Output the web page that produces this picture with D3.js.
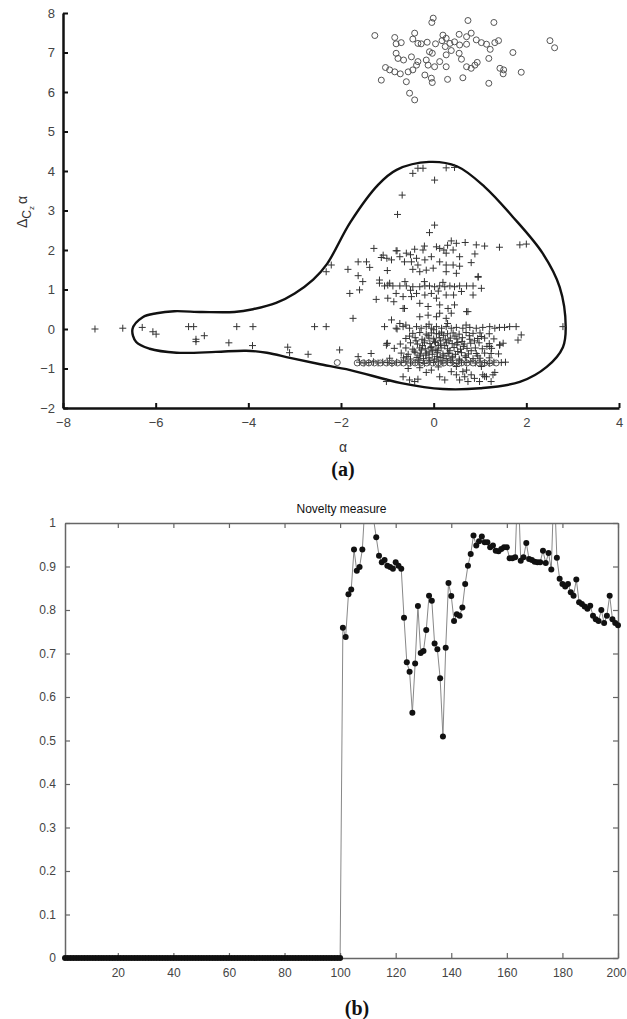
<!DOCTYPE html>
<html>
<head>
<meta charset="utf-8">
<script src="https://cdn.jsdelivr.net/npm/d3@7"></script>
<style>
	body { margin: 0; background: #fff; }
	svg { display: block; font-family: "Liberation Sans", Arial, sans-serif; }
</style>
</head>
<body>
<script>
// ---- panel (a) data ----
const xTicksA = [-8, -6, -4, -2, 0, 2, 4];
const yTicksA = [-2, -1, 0, 1, 2, 3, 4, 5, 6, 7, 8];

// closed decision boundary (alpha, delta)
const boundary = [
	[-6.5, 0], [-6.28, 0.3], [-5.98, 0.4], [-5.6, 0.45], [-5.0, 0.43], [-4.3, 0.43],
	[-3.9, 0.5], [-3.4, 0.66], [-3.0, 0.9], [-2.6, 1.25], [-2.3, 1.65], [-1.8, 2.7],
	[-1.2, 3.65], [-0.8, 4.03], [-0.1, 4.23], [0.5, 4.12], [1.1, 3.6], [1.7, 2.85],
	[2.35, 1.92], [2.72, 1.06], [2.85, 0.05], [2.79, -0.46], [2.44, -0.96], [1.86, -1.34],
	[1.0, -1.5], [0.2, -1.52], [-0.7, -1.37], [-1.8, -1.04], [-2.5, -0.88], [-3.1, -0.73],
	[-3.6, -0.6], [-4.05, -0.55], [-4.7, -0.58], [-5.55, -0.6], [-6.13, -0.5], [-6.42, -0.33]
];

// novel samples (circles)
const circlePts = [
	[-0.01, 7.87], [-0.04, 7.76], [0.74, 7.81], [1.30, 7.76], [-1.27, 7.43], [-0.84, 7.38],
	[-0.41, 7.49], [-0.45, 7.34], [-0.81, 7.22], [-0.70, 7.25], [-0.34, 7.23], [-0.27, 7.22],
	[-0.14, 7.26], [0.04, 7.22], [0.20, 7.44], [0.18, 7.30], [0.27, 7.36], [0.35, 7.23],
	[0.25, 7.15], [0.45, 7.27], [0.55, 7.46], [0.71, 7.40], [0.81, 7.49], [0.71, 7.21],
	[0.56, 7.19], [0.92, 7.32], [1.03, 7.25], [1.14, 7.21], [1.22, 7.08], [1.32, 7.25],
	[1.40, 7.30], [1.71, 7.00], [2.51, 7.30], [2.61, 7.12], [-0.81, 6.98], [-0.77, 6.85],
	[-0.65, 6.81], [-0.48, 6.89], [-0.34, 6.77], [-0.16, 6.81], [-0.09, 7.02], [-0.03, 6.98],
	[-0.12, 6.68], [0.02, 6.64], [0.13, 6.77], [0.27, 6.64], [0.27, 6.94], [0.38, 7.05],
	[0.55, 6.98], [0.60, 6.83], [0.71, 6.64], [0.81, 6.60], [0.89, 6.68], [0.94, 6.75],
	[1.19, 6.85], [1.43, 6.60], [1.51, 6.56], [1.50, 6.46], [1.89, 6.50], [-1.04, 6.62],
	[-0.95, 6.56], [-0.84, 6.51], [-0.72, 6.46], [-0.55, 6.51], [-0.45, 6.56], [-0.37, 6.68],
	[-0.19, 6.43], [-0.05, 6.35], [-0.03, 6.24], [0.30, 6.32], [0.63, 6.36], [1.19, 6.22],
	[-0.59, 6.26], [-1.13, 6.30], [-0.52, 5.97], [-0.41, 5.80],
	// a few inside the normal cloud
	[-2.08, -0.85], [-1.65, -0.86], [-1.52, -0.86], [-1.4, -0.86], [-1.28, -0.86], [-1.15, -0.86],
	[-1.02, -0.86], [-0.9, -0.86], [-0.78, -0.86], [-0.65, -0.86], [-0.52, -0.86], [-0.4, -0.86],
	[-0.28, -0.86], [-0.15, -0.86], [-0.02, -0.86], [0.1, -0.86], [0.22, -0.86], [0.35, -0.86],
	[0.48, -0.86], [0.6, -0.86], [0.72, -0.86], [0.85, -0.86], [0.98, -0.86], [1.1, -0.86],
	[1.22, -0.86], [1.35, -0.86]
];

// normal samples (plus signs)
const plusPts = [
	[-7.31, 0], [-6.71, 0.02], [-6.29, 0.04], [-6.06, -0.07], [-5.99, -0.13], [-5.29, 0.06],
	[-5.18, 0.06], [-5.13, -0.26], [-5.13, -0.32], [-4.95, -0.17], [-4.42, -0.35], [-4.25, 0.06],
	[-3.9, 0.06], [-3.91, -0.42], [-3.15, -0.46], [-3.11, -0.6], [-2.71, -0.64], [-2.57, 0.06],
	[-2.32, 0.06], [-2.32, 1.45], [-2.21, 1.62], [-2.03, -0.53],
	[-0.45, 3.94], [-0.34, 4.07], [-0.23, 4.07], [0.27, 4.08], [0.45, 4.09], [0.02, 3.77],
	[-0.68, 3.39], [-0.78, 2.9], [0.02, 2.63], [-0.09, 2.44],
	[0.38, 2.23], [0.49, 2.17], [0.68, 2.19], [0.92, 2.13], [1.1, 2.1], [1.42, 2.07], [1.86, 2.13],
	[2.0, 2.15], [-1.29, 2.04], [-0.79, 1.98], [-0.59, 1.92], [-0.41, 2.02], [-0.23, 2.0],
	[0.06, 2.08], [0.13, 2.04], [0.22, 2.0], [0.27, 1.92], [0.42, 2.0], [0.56, 1.83], [-1.13, 1.81],
	[-1.01, 1.79], [-0.91, 1.75], [-0.73, 1.83], [-0.63, 1.7], [-0.48, 1.7], [-0.37, 1.79],
	[-0.34, 1.62], [-0.19, 1.75], [-0.05, 1.83], [0.13, 1.7], [0.27, 1.62], [0.42, 1.62],
	[0.56, 1.59], [0.81, 1.68], [-1.63, 1.7], [-1.45, 1.7], [-1.38, 1.56], [-1.85, 1.51],
	[-1.63, 1.35], [-1.53, 1.2], [-1.0, 1.48], [-0.45, 1.51], [-0.3, 1.45], [-0.16, 1.49],
	[-0.01, 1.54], [0.27, 1.45], [0.49, 1.41], [-1.09, 1.87], [-0.81, 1.98], [0.89, 1.9],
	[0.96, 1.33], [-0.2, 2.1], [0.3, 2.12], [-0.5, 1.88],
	[-1.17, 1.24], [-1.06, 1.09], [-0.99, 1.11], [-0.88, 1.09], [-0.73, 1.09], [-0.59, 1.09],
	[-0.45, 1.07], [-0.3, 1.07], [-0.19, 1.09], [-0.09, 1.09], [0.02, 1.07], [0.13, 1.09],
	[0.24, 1.07], [0.35, 1.09], [0.45, 1.07], [0.56, 1.09], [0.71, 1.09], [0.85, 1.09],
	[0.96, 1.31], [1.03, 1.03], [-1.81, 0.9], [-1.6, 0.99], [-1.24, 0.75], [-0.99, 0.78],
	[-0.81, 0.9], [-0.66, 0.82], [-0.63, 0.52], [-0.48, 0.82], [-0.37, 0.9], [-0.19, 0.86],
	[-0.05, 0.9], [0.06, 0.78], [0.27, 0.86], [0.43, 0.86], [0.85, 0.86], [-0.3, 0.65],
	[-0.12, 0.57], [0.13, 0.61], [0.31, 0.52], [0.38, 0.4], [0.71, 0.44], [-1.74, 0.27],
	[-0.91, 0.23], [-0.73, 0.14], [-0.3, 0.31], [-0.12, 0.35], [0.06, 0.31], [0.13, 0.4],
	[0.27, 0.27], [-1.17, 1.16], [-0.95, 1.16], [-0.86, 0.69], [-0.66, 0.52], [0.74, 0.44],
	[0.45, 0.61], [-0.62, 1.2], [-0.2, 1.2], [0.2, 1.18], [-0.5, 0.98], [0.1, 0.96], [0.6, 0.95],
	[-1.06, 0.06], [-0.81, 0.02], [-0.66, 0.06], [-0.52, 0.02], [-0.37, 0.06], [-0.27, 0.02],
	[-0.16, 0.06], [-0.05, 0.02], [0.06, 0.06], [0.17, 0.02], [0.27, 0.06], [0.38, 0.02],
	[0.49, 0.04], [0.63, 0.02], [0.78, 0.04], [0.92, 0.02], [1.06, 0.04], [1.21, 0.06],
	[1.32, 0.02], [1.42, 0.04], [1.53, 0.04], [1.64, 0.06], [1.78, 0.06], [1.89, -0.15],
	[1.82, -0.28], [2.79, 0.06], [-0.79, 0.0], [-1.01, -0.37], [1.03, -0.19], [1.43, -0.4],
	[1.21, -0.44], [-0.6, 0.1], [-0.1, 0.12], [0.3, 0.14], [0.7, 0.1],
	[-0.45, -0.11], [-0.3, -0.09], [-0.16, -0.13], [-0.05, -0.1], [0.06, -0.12], [0.17, -0.08],
	[0.3, -0.12], [0.42, -0.1], [0.55, -0.13], [0.7, -0.09], [0.85, -0.11], [1.0, -0.1], [1.2, -0.12],
	[-0.6, -0.24], [-0.4, -0.22], [-0.25, -0.26], [-0.1, -0.23], [0.0, -0.25], [0.12, -0.22],
	[0.25, -0.26], [0.36, -0.23], [0.5, -0.25], [0.62, -0.22], [0.78, -0.26], [0.95, -0.24],
	[1.1, -0.23], [1.3, -0.25],
	[-1.0, -0.36], [-0.5, -0.35], [-0.35, -0.38], [-0.2, -0.35], [-0.08, -0.37], [0.04, -0.34],
	[0.15, -0.38], [0.28, -0.35], [0.4, -0.37], [0.52, -0.34], [0.66, -0.38], [0.8, -0.36],
	[0.98, -0.35], [1.2, -0.37], [1.5, -0.36],
	[-0.85, -0.49], [-0.6, -0.48], [-0.45, -0.51], [-0.3, -0.48], [-0.18, -0.5], [-0.06, -0.47],
	[0.05, -0.51], [0.16, -0.48], [0.3, -0.5], [0.44, -0.47], [0.58, -0.51], [0.72, -0.49],
	[0.9, -0.48], [1.05, -0.5], [1.25, -0.49],
	[-1.35, -0.62], [-0.7, -0.61], [-0.55, -0.64], [-0.4, -0.6], [-0.28, -0.63], [-0.15, -0.61],
	[-0.03, -0.64], [0.08, -0.6], [0.2, -0.63], [0.33, -0.61], [0.47, -0.64], [0.6, -0.6],
	[0.75, -0.63], [0.92, -0.62], [1.1, -0.61], [1.4, -0.63],
	[-0.95, -0.74], [-0.65, -0.73], [-0.5, -0.76], [-0.36, -0.72], [-0.22, -0.75], [-0.1, -0.73],
	[0.02, -0.76], [0.14, -0.72], [0.27, -0.75], [0.4, -0.73], [0.55, -0.76], [0.7, -0.72],
	[0.85, -0.75], [1.0, -0.74], [1.2, -0.73],
	[-0.2, -0.3], [0.1, -0.42], [0.35, -0.55], [-0.1, -0.58], [0.22, -0.68], [0.5, -0.4],
	[-0.3, -0.68], [0.0, -0.02], [0.15, -0.3], [-0.05, -0.45],
	[-0.52, -0.18], [-0.38, -0.3], [-0.24, -0.42], [-0.12, -0.17], [0.02, -0.31], [0.09, -0.55],
	[0.21, -0.16], [0.24, -0.42], [0.33, -0.3], [0.41, -0.69], [0.46, -0.18], [0.52, -0.57],
	[0.61, -0.32], [0.64, -0.44], [0.68, -0.68], [0.77, -0.17], [0.81, -0.55], [0.88, -0.3],
	[-0.42, -0.56], [-0.33, -0.79], [-0.17, -0.66], [-0.08, -0.8], [0.07, -0.7], [0.18, -0.8],
	[0.31, -0.62], [0.37, -0.79], [-0.58, -0.7], [-0.26, -0.53], [0.12, -0.12], [-0.02, -0.55],
	[0.56, -0.79], [0.95, -0.68], [-0.72, -0.38], [1.15, -0.44],
	[-1.6, -0.84], [-1.5, -0.86], [-1.4, -0.85], [-1.3, -0.83], [-1.2, -0.86], [-1.1, -0.84],
	[-1.0, -0.85], [-0.9, -0.87], [-0.8, -0.84], [-0.7, -0.85], [-0.6, -0.83], [-0.5, -0.86],
	[-0.4, -0.84], [-0.3, -0.85], [-0.2, -0.87], [-0.1, -0.84], [0.0, -0.85], [0.1, -0.83],
	[0.2, -0.86], [0.3, -0.84], [0.4, -0.85], [0.5, -0.87], [0.6, -0.84], [0.7, -0.85],
	[0.8, -0.83], [0.9, -0.86], [1.0, -0.84], [1.1, -0.85], [1.2, -0.87], [1.3, -0.84],
	[1.46, -0.85], [1.55, -0.84],
	[-1.02, -1.33], [-0.66, -1.21], [-0.52, -1.29], [-0.41, -1.33], [-0.34, -1.27], [-0.16, -1.1],
	[-0.05, -1.04], [0.13, -1.21], [0.24, -1.29], [0.38, -1.08], [0.49, -1.16], [0.56, -1.29],
	[0.67, -1.21], [0.74, -1.33], [0.81, -1.16], [0.88, -1.25], [0.99, -1.33], [1.06, -1.16],
	[1.14, -1.21], [1.24, -1.33], [1.28, -1.16], [1.03, -0.95], [1.42, -0.41], [1.24, -0.62],
	[0.49, -0.95], [0.71, -1.04], [-1.02, -0.41], [-1.63, -0.7], [1.32, -1.1], [1.1, -1.2],
	[0.63, -1.08], [-0.3, -0.98], [0.1, -0.96], [-0.55, -1.0]
];

// ---- panel (b) data ----
const xTicksB = [20, 40, 60, 80, 100, 120, 140, 160, 180, 200];
const yTicksB = [0, 0.1, 0.2, 0.3, 0.4, 0.5, 0.6, 0.7, 0.8, 0.9, 1];
// novelty value for samples 1..200
const novelty = [
	0, 0, 0, 0, 0, 0, 0, 0, 0, 0, 0, 0, 0, 0, 0, 0, 0, 0, 0, 0,
	0, 0, 0, 0, 0, 0, 0, 0, 0, 0, 0, 0, 0, 0, 0, 0, 0, 0, 0, 0,
	0, 0, 0, 0, 0, 0, 0, 0, 0, 0, 0, 0, 0, 0, 0, 0, 0, 0, 0, 0,
	0, 0, 0, 0, 0, 0, 0, 0, 0, 0, 0, 0, 0, 0, 0, 0, 0, 0, 0, 0,
	0, 0, 0, 0, 0, 0, 0, 0, 0, 0, 0, 0, 0, 0, 0, 0, 0, 0, 0, 0,
	0.759, 0.738, 0.836, 0.847, 0.939, 0.890, 0.899, 0.939, 1.05, 1.1,
	1.08, 1.01, 0.967, 0.925, 0.910, 0.915, 0.902, 0.899, 0.895, 0.910,
	0.902, 0.895, 0.782, 0.680, 0.658, 0.564, 0.677, 0.809, 0.701, 0.706,
	0.754, 0.833, 0.821, 0.723, 0.710, 0.643, 0.509, 0.713, 0.862, 0.832,
	0.775, 0.790, 0.787, 0.806, 0.860, 0.902, 0.929, 0.971, 0.948, 0.958,
	0.969, 0.956, 0.956, 0.944, 0.948, 0.936, 0.935, 0.940, 0.944, 0.944,
	0.919, 0.919, 0.921, 1.1, 0.913, 0.921, 0.954, 0.917, 0.915, 0.911,
	0.910, 0.910, 0.936, 0.908, 0.931, 0.893, 1.1, 0.920, 0.872, 0.860,
	0.854, 0.860, 0.841, 0.833, 0.870, 0.818, 0.814, 0.808, 0.803, 0.810,
	0.787, 0.779, 0.775, 0.800, 0.770, 0.787, 0.833, 0.779, 0.770, 0.765
];

const svg = d3.select("body").append("svg").attr("width", 627).attr("height", 1019);

const drawScatter = () => {
	const x = d3.scaleLinear().domain([-8, 4]).range([63, 619]);
	const y = d3.scaleLinear().domain([-2, 8]).range([408, 13]);
	const g = svg.append("g");

	g.append("path")
		.datum(boundary)
		.attr("d", d3.line().x((d) => x(d[0])).y((d) => y(d[1])).curve(d3.curveCatmullRomClosed))
		.attr("fill", "none")
		.attr("stroke", "#111")
		.attr("stroke-width", 2.4);

	// plus markers
	const s = 3.5;
	g.append("g")
		.selectAll("path")
		.data(plusPts)
		.enter()
		.append("path")
		.attr("d", (d) => {
			const px = x(d[0]), py = y(d[1]);
			return `M${px - s},${py}H${px + s}M${px},${py - s}V${py + s}`;
		})
		.attr("stroke", "#333")
		.attr("stroke-width", 1);

	g.append("g")
		.selectAll("circle")
		.data(circlePts)
		.enter()
		.append("circle")
		.attr("cx", (d) => x(d[0]))
		.attr("cy", (d) => y(d[1]))
		.attr("r", 3)
		.attr("fill", "none")
		.attr("stroke", "#555")
		.attr("stroke-width", 1);

	const xAxis = g.append("g")
		.attr("transform", "translate(0,408)")
		.call(d3.axisBottom(x).tickValues(xTicksA).tickSizeInner(-5).tickSizeOuter(0).tickPadding(10)
			.tickFormat((d) => (d < 0 ? "\u2212" + -d : d)));
	const yAxis = g.append("g")
		.attr("transform", "translate(63,0)")
		.call(d3.axisLeft(y).tickValues(yTicksA).tickSizeInner(-5).tickSizeOuter(0).tickPadding(8)
			.tickFormat((d) => (d < 0 ? "\u2212" + -d : d)));
	[xAxis, yAxis].forEach((a) => {
		a.select(".domain").attr("stroke", "#111").attr("stroke-width", 2.5);
		a.selectAll(".tick line").attr("stroke", "#111").attr("stroke-width", 2);
		a.selectAll("text").attr("fill", "#444").attr("font-size", 13);
	});

	g.append("text")
		.attr("x", 343)
		.attr("y", 452)
		.attr("text-anchor", "middle")
		.attr("font-size", 14)
		.attr("fill", "#333")
		.text("α");

	// y label: Delta sub C sub z alpha
	const lab = g.append("text")
		.attr("transform", "translate(27,212) rotate(-90)")
		.attr("text-anchor", "middle")
		.attr("font-size", 14)
		.attr("fill", "#333");
	lab.append("tspan").text("Δ");
	lab.append("tspan").attr("dy", 4).attr("font-size", 12).text("C");
	lab.append("tspan").attr("dy", 3).attr("font-size", 8).text("z");
	lab.append("tspan").attr("dy", -7).attr("dx", 2).text("α");

	svg.append("text")
		.attr("x", 343)
		.attr("y", 476)
		.attr("text-anchor", "middle")
		.attr("font-family", "Liberation Serif, serif")
		.attr("font-weight", "bold")
		.attr("font-size", 20)
		.attr("fill", "#111")
		.text("(a)");
};

const drawNovelty = () => {
	const left = 65, right = 618, top = 523, bottom = 958;
	const x = d3.scaleLinear().domain([1, 200]).range([left, right]);
	const y = d3.scaleLinear().domain([0, 1]).range([bottom, top]);
	const data = novelty.map((v, i) => ({ t: i + 1, v: v }));
	const g = svg.append("g");

	g.append("clipPath")
		.attr("id", "clipB")
		.append("rect")
		.attr("x", left)
		.attr("y", top)
		.attr("width", right - left)
		.attr("height", bottom - top + 6);

	g.append("path")
		.datum(data)
		.attr("clip-path", "url(#clipB)")
		.attr("d", d3.line().x((d) => x(d.t)).y((d) => y(d.v)))
		.attr("fill", "none")
		.attr("stroke", "#888")
		.attr("stroke-width", 1);

	const fmt = (d) => (d == 0 || d == 1 ? d : d3.format(".1f")(d));
	const axes = [
		g.append("g").attr("transform", `translate(0,${bottom})`)
			.call(d3.axisBottom(x).tickValues(xTicksB).tickSizeInner(-5).tickSizeOuter(0).tickPadding(10)),
		g.append("g").attr("transform", `translate(0,${top})`)
			.call(d3.axisTop(x).tickValues(xTicksB).tickSizeInner(-5).tickSizeOuter(0).tickFormat("")),
		g.append("g").attr("transform", `translate(${left},0)`)
			.call(d3.axisLeft(y).tickValues(yTicksB).tickSizeInner(-5).tickSizeOuter(0).tickPadding(9).tickFormat(fmt)),
		g.append("g").attr("transform", `translate(${right},0)`)
			.call(d3.axisRight(y).tickValues(yTicksB).tickSizeInner(-5).tickSizeOuter(0).tickFormat(""))
	];
	axes.forEach((a) => {
		a.select(".domain").attr("stroke", "#666").attr("stroke-width", 1.5);
		a.selectAll(".tick line").attr("stroke", "#666").attr("stroke-width", 1.2);
		a.selectAll("text").attr("fill", "#444").attr("font-size", 12);
	});
	// last x label sits at the page edge, pull it in a little
	axes[0].selectAll(".tick text").filter((d) => d == 200).attr("text-anchor", "end").attr("dx", 8);

	g.append("g")
		.selectAll("circle")
		.data(data.filter((d) => d.v <= 1))
		.enter()
		.append("circle")
		.attr("cx", (d) => x(d.t))
		.attr("cy", (d) => y(d.v))
		.attr("r", 3)
		.attr("fill", "#111");

	g.append("text")
		.attr("x", (left + right) / 2)
		.attr("y", 513)
		.attr("text-anchor", "middle")
		.attr("font-size", 12)
		.attr("fill", "#111")
		.text("Novelty measure");

	svg.append("text")
		.attr("x", 357)
		.attr("y", 1015)
		.attr("text-anchor", "middle")
		.attr("font-family", "Liberation Serif, serif")
		.attr("font-weight", "bold")
		.attr("font-size", 20)
		.attr("fill", "#111")
		.text("(b)");
};

drawScatter();
drawNovelty();
</script>
</body>
</html>
